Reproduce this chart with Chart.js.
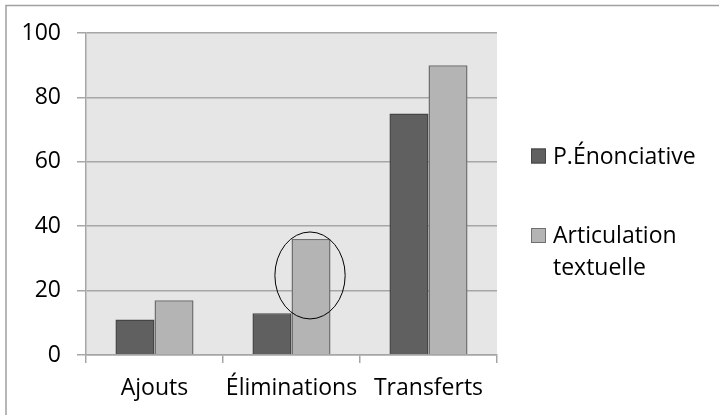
<!DOCTYPE html>
<html>
<head>
<meta charset="utf-8">
<script src="https://cdn.jsdelivr.net/npm/chart.js@4/dist/chart.umd.min.js"></script>
<style>
  html, body { margin: 0; padding: 0; background: #ffffff; }
  #wrap { position: relative; width: 719px; height: 415px; }
</style>
</head>
<body>
<div id="wrap"><canvas id="c" width="719" height="415"></canvas></div>
<script>
// Categories and series
const categories = ['Ajouts', 'Éliminations', 'Transferts'];
const seriesNames = ['P.Énonciative', 'Articulation textuelle'];
const enonciative = [11, 13, 75];
const articulation = [17, 36, 90];
const yTicks = [0, 20, 40, 60, 80, 100];

// Highlight ring around one bar (category index, series index, centre value, half-height in value units)
const highlight = { category: 1, series: 1, centre: 24.7, halfSpan: 13.5 };

const FONT = '"Open Sans", "Noto Sans", sans-serif';
const FSIZE = 23;
const GRID = '#a6a6a6';

const frame = {
  id: 'frame',
  beforeDraw(chart) {
    const { ctx, chartArea: a } = chart;
    ctx.save();
    ctx.fillStyle = '#e6e6e6';
    ctx.fillRect(a.left, a.top, a.right - a.left, a.bottom - a.top);
    // outer chart border (top and left edges visible)
    ctx.strokeStyle = '#a0a0a0';
    ctx.lineWidth = 1.5;
    ctx.beginPath();
    ctx.moveTo(6, chart.height);
    ctx.lineTo(6, 5.5);
    ctx.lineTo(chart.width, 5.5);
    ctx.stroke();
    ctx.restore();
  }
};

const ring = {
  id: 'ring',
  afterDatasetsDraw(chart) {
    const meta = chart.getDatasetMeta(highlight.series);
    const bar = meta.data[highlight.category];
    if (!bar) return;
    const y = chart.scales.y;
    const cy = y.getPixelForValue(highlight.centre);
    const ry = Math.abs(y.getPixelForValue(highlight.centre - highlight.halfSpan) - cy);
    const rx = bar.width * 0.9;
    const { ctx } = chart;
    ctx.save();
    ctx.strokeStyle = '#000000';
    ctx.lineWidth = 1;
    ctx.beginPath();
    ctx.ellipse(bar.x - 1, cy, rx, ry, 0, 0, Math.PI * 2);
    ctx.stroke();
    ctx.restore();
  }
};

const sideLegend = {
  id: 'sideLegend',
  afterDraw(chart) {
    const { ctx } = chart;
    const x = 531, tx = 553, maxW = 160;
    const rows = [156, 235.5];
    const lineH = 31.5;
    ctx.save();
    ctx.font = FSIZE + 'px ' + FONT;
    ctx.textBaseline = 'middle';
    chart.data.datasets.forEach((ds, i) => {
      const cy = rows[i];
      ctx.fillStyle = ds.backgroundColor;
      ctx.fillRect(x, cy - 7.5, 15, 15);
      ctx.strokeStyle = ds.borderColor;
      ctx.lineWidth = 1;
      ctx.strokeRect(x + 0.5, cy - 7, 14, 14);
      // wrap label words to the legend width
      const words = ds.label.split(' ');
      const lines = [];
      let cur = '';
      words.forEach(w => {
        const t = cur ? cur + ' ' + w : w;
        if (ctx.measureText(t).width > maxW && cur) { lines.push(cur); cur = w; } else cur = t;
      });
      lines.push(cur);
      ctx.fillStyle = '#000000';
      lines.forEach((l, k) => ctx.fillText(l, tx, cy + 1 + k * lineH));
    });
    ctx.restore();
  }
};

new Chart(document.getElementById('c'), {
  type: 'bar',
  data: {
    labels: categories,
    datasets: [
      { label: seriesNames[0], data: enonciative, backgroundColor: '#606060', borderColor: '#454545', borderWidth: 1.5 },
      { label: seriesNames[1], data: articulation, backgroundColor: '#b4b4b4', borderColor: '#707070', borderWidth: 1.5 }
    ]
  },
  options: {
    responsive: false,
    animation: false,
    devicePixelRatio: 1,
    layout: { padding: { left: 0, top: 33, right: 222, bottom: 0 } },
    datasets: { bar: { barPercentage: 1, categoryPercentage: 0.57 } },
    plugins: { legend: { display: false }, tooltip: { enabled: false } },
    scales: {
      x: {
        grid: { display: true, drawOnChartArea: false, drawTicks: true, tickLength: 8, color: GRID, lineWidth: 1.5, offset: true },
        border: { display: true, color: GRID, width: 1.5 },
        ticks: { color: '#000000', font: { family: FONT, size: FSIZE }, padding: 12, maxRotation: 0, autoSkip: false },
        afterFit(scale) { scale.height = 60; }
      },
      y: {
        min: 0, max: 100,
        afterBuildTicks(scale) { scale.ticks = yTicks.map(v => ({ value: v })); },
        grid: { color: GRID, lineWidth: 1.5, tickLength: 9, drawTicks: true },
        border: { display: true, color: GRID, width: 1.5 },
        ticks: { color: '#000000', font: { family: FONT, size: FSIZE }, padding: 16 },
        afterFit(scale) { scale.width = 86; }
      }
    }
  },
  plugins: [frame, ring, sideLegend]
});
</script>
</body>
</html>
